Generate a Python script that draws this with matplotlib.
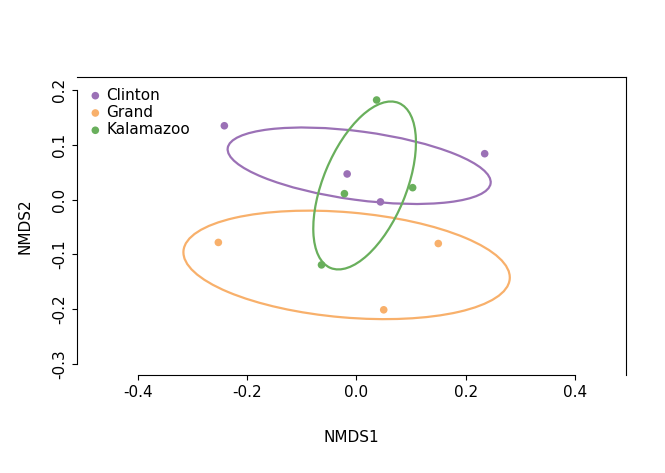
import matplotlib
matplotlib.use("Agg")
import matplotlib.pyplot as plt
from matplotlib.patches import Ellipse

groups = ["Clinton", "Grand", "Kalamazoo"]
colors = ["#9B71B6", "#F8B06B", "#69AF5C"]
xs = [[-0.242, -0.017, 0.044, 0.235],
      [-0.253, 0.050, 0.150],
      [0.037, -0.022, 0.103, -0.064]]
ys = [[0.135, 0.047, -0.004, 0.084],
      [-0.078, -0.201, -0.080],
      [0.182, 0.011, 0.022, -0.119]]
# ellipse: center x, center y, full width, full height, angle (data coords)
ell_cx = [0.005, -0.018, 0.015]
ell_cy = [0.062, -0.119, 0.026]
ell_w = [0.486, 0.600, 0.326]
ell_h = [0.125, 0.192, 0.152]
ell_ang = [-7.6, -4.9, 67.4]

fig = plt.figure(figsize=(6.65, 4.73), dpi=100)
ax = fig.add_axes([0.1158, 0.2072, 0.8256, 0.63])
for g, c, x, y, cx, cy, w, h, a in zip(groups, colors, xs, ys, ell_cx, ell_cy, ell_w, ell_h, ell_ang):
    ax.scatter(x, y, color=c, s=30, zorder=3, label=g, edgecolors='none')
    ax.add_patch(Ellipse((cx, cy), w, h, angle=a, fill=False, edgecolor=c, lw=1.6))
ax.set_xlim(-0.512, 0.494)
ax.set_ylim(-0.32, 0.224)
ax.set_xticks([-0.4, -0.2, 0.0, 0.2, 0.4])
ax.set_xticklabels(["-0.4", "-0.2", "0.0", "0.2", "0.4"])
ax.set_yticks([-0.3, -0.2, -0.1, 0.0, 0.1, 0.2])
ax.set_yticklabels(["-0.3", "-0.2", "-0.1", "0.0", "0.1", "0.2"], rotation=90, va='center')
ax.spines['top'].set_visible(False)
ax.spines['right'].set_visible(False)
ax.spines['left'].set_bounds(-0.3, 0.2)
ax.spines['bottom'].set_bounds(-0.4, 0.4)
for s in ax.spines.values():
    s.set_visible(True)
ax.set_xlabel("NMDS1", fontsize=11, labelpad=22)
ax.set_ylabel("NMDS2", fontsize=11, labelpad=14)
ax.tick_params(labelsize=11)
ax.legend(loc='upper left', frameon=False, fontsize=11, handletextpad=0.2,
          borderaxespad=0.3, labelspacing=0.15, handlelength=1.0, scatterpoints=1)
fig.savefig("out.png", dpi=100)
